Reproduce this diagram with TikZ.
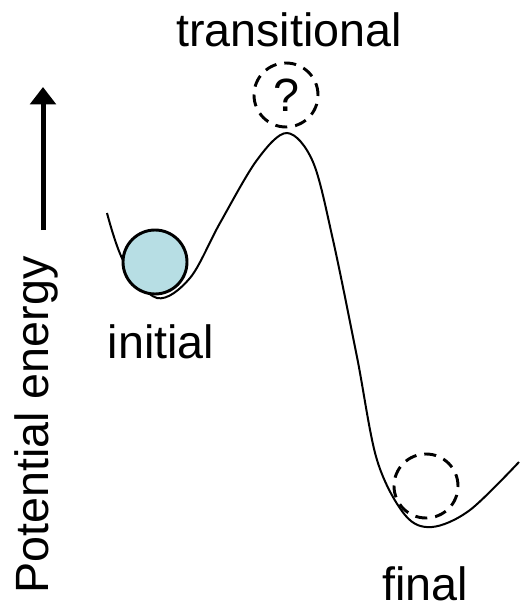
\documentclass[tikz,border=0pt]{standalone}
\usepackage{fontspec}
\setmainfont{Liberation Sans}
\usepackage{tikz}
\usetikzlibrary{positioning, arrows.meta}
\usepackage{xcolor}
\definecolor{ballblue}{RGB}{183,222,228}

\begin{document}
\begin{tikzpicture}[x=0.75pt, y=-0.75pt,
  lbl/.style={inner sep=0pt, anchor=base, font=\fontsize{35}{40}\selectfont},
  ghost/.style={draw, dashed, dash pattern=on 9pt off 6pt, line width=2.2pt, circle, minimum size=48pt, inner sep=0pt}]
\useasboundingbox (0,0) rectangle (519,610);
% energy curve
\draw[line width=1.5pt] plot[smooth, tension=0.55] coordinates {(107,213) (124,262) (157,298) (190,278) (220,223) (257,160) (287,133) (313,162) (333,240) (357,357) (377,460) (405,515) (432,527) (470,510) (519,462)};
% states
\node[draw, circle, fill=ballblue, line width=2.2pt, minimum size=48pt] (ball) at (155,262) {};
\node[ghost, font=\fontsize{35}{40}\selectfont] (ts) at (286,95) {?};
\node[ghost] (fs) at (426,486) {};
\node[lbl] (tslbl) at (289,47) {transitional};
\node[lbl] (inlbl) at (161,358) {initial};
\node[lbl] (fslbl) at (425,600) {final};
% axis
\node[lbl, rotate=90] (axis) at (48,425) {Potential energy};
\coordinate (ebot) at (43,230);
\coordinate (etop) at (43,87);
\draw[line width=3.75pt, -{Triangle[width=19pt, length=13pt]}] (ebot) -- (etop);
\end{tikzpicture}
\end{document}
